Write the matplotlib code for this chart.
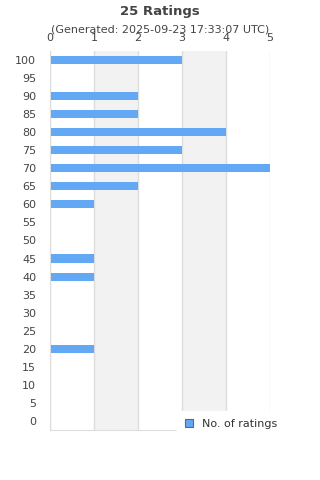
import matplotlib
matplotlib.use("Agg")
import matplotlib.pyplot as plt
from matplotlib.patches import Patch

categories = [100, 95, 90, 85, 80, 75, 70, 65, 60, 55, 50, 45, 40, 35, 30, 25, 20, 15, 10, 5, 0]
counts = [3, 0, 2, 2, 4, 3, 5, 2, 1, 0, 0, 1, 1, 0, 0, 0, 1, 0, 0, 0, 0]
xticks = [0, 1, 2, 3, 4, 5]
title = "25 Ratings"
subtitle = "(Generated: 2025-09-23 17:33:07 UTC)"
legend_label = "No. of ratings"

fig = plt.figure(figsize=(3.2, 4.8), dpi=100)
ax = fig.add_axes([50/320, 1-430/480, 220/320, 379/480])

pos = list(range(len(categories)))
for a in (1, 3):
    ax.axvspan(a, a + 1, color="#f2f2f2", zorder=0, lw=0)
for x in xticks:
    ax.axvline(x, color="#dddddd", lw=1, zorder=1)
ax.barh(pos, counts, height=0.45, color="#62a8f4", zorder=2)
ax.set_ylim(len(categories) - 0.5, -0.5)
ax.set_xlim(0, 5)
ax.set_yticks(pos)
ax.set_yticklabels([str(c) for c in categories], fontsize=8, color="#444444")
ax.xaxis.tick_top()
ax.set_xticks(xticks)
ax.set_xticklabels([str(x) for x in xticks], fontsize=8, color="#444444")
ax.tick_params(length=0)
ax.tick_params(axis="x", pad=5.5)
ax.tick_params(axis="y", pad=10)
for s in ("top", "right"):
    ax.spines[s].set_visible(False)
for s in ("left", "bottom"):
    ax.spines[s].set_color("#dddddd")

fig.text(0.5, 1-11/480, title, ha="center", va="center", fontsize=9.5, fontweight="bold", color="#444444")
fig.text(0.5, 1-30/480, subtitle, ha="center", va="center", fontsize=8, color="#444444")

h = Patch(facecolor="#62a8f4", edgecolor="#666666", lw=0.8)
leg = fig.legend([h], [legend_label], loc="upper left", bbox_to_anchor=(173/320, 1-407/480),
                 frameon=True, fontsize=8, handlelength=0.7, handleheight=0.7, handletextpad=0.8,
                 borderpad=0.6, labelcolor="#333333")
leg.get_frame().set_facecolor("white")
leg.get_frame().set_edgecolor("white")
leg.get_frame().set_alpha(1)
leg.get_frame().set_boxstyle("square", pad=0.1)

fig.savefig("out.png", dpi=100)
